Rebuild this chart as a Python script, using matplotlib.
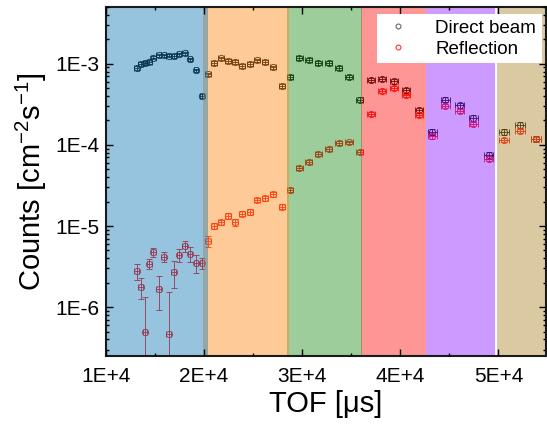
"""TOF spectrum of direct beam vs reflection, with coloured wavelength bands."""

import matplotlib
matplotlib.use("Agg")
import matplotlib.pyplot as plt
from matplotlib.lines import Line2D

plt.rcParams["font.family"] = ["Liberation Sans", "DejaVu Sans"]
plt.rcParams["mathtext.fontset"] = "custom"
plt.rcParams["mathtext.rm"] = "Liberation Sans"
plt.rcParams["mathtext.it"] = "Liberation Sans:italic"

# --- data ---
tof = [13130, 13540, 13980, 14410, 14820, 15370, 15880, 16390, 16900, 17440,
       18020, 18560, 19170, 19790,
       20430, 21040, 21750, 22410, 23120, 23890, 24650, 25390, 26210, 27020,
       27910, 28790,
       29700, 30660, 31660, 32690, 33710, 34770, 35860,
       36990, 38170, 39390, 40610, 41910,
       43260, 44590, 46060, 47440, 48990,
       50570, 52170, 53830]
tof_err = [250, 250, 250, 250, 250, 250, 250, 250, 250, 250, 250, 250, 250, 250,
           300, 300, 300, 300, 300, 300, 300, 300, 300, 300, 300, 300,
           360, 360, 360, 360, 360, 360, 360,
           420, 420, 420, 420, 420,
           480, 480, 480, 480, 480,
           520, 520, 520]

direct = [8.85e-4, 9.9e-4, 1.02e-3, 1.06e-3, 1.19e-3, 1.27e-3, 1.27e-3, 1.26e-3,
          1.24e-3, 1.30e-3, 1.34e-3, 1.13e-3, 8.27e-4, 3.99e-4,
          7.38e-4, 1.03e-3, 1.16e-3, 1.09e-3, 1.05e-3, 9.45e-4, 1.0e-3, 1.10e-3,
          1.06e-3, 9.0e-4, 5.35e-4, 6.91e-4,
          1.17e-3, 1.11e-3, 1.03e-3, 1.01e-3, 8.85e-4, 6.91e-4, 3.62e-4,
          6.29e-4, 6.47e-4, 6.04e-4, 4.68e-4, 2.68e-4,
          1.46e-4, 3.60e-4, 3.06e-4, 2.15e-4, 7.42e-5,
          1.43e-4, 1.77e-4, 1.19e-4]
direct_err = [5e-5, 5.5e-5, 5.5e-5, 5.5e-5, 6e-5, 6.5e-5, 6.5e-5, 6.5e-5, 6.5e-5,
              6.5e-5, 7e-5, 6e-5, 4.5e-5, 2.5e-5,
              4e-5, 5.5e-5, 6e-5, 5.5e-5, 5.5e-5, 5e-5, 5.5e-5, 5.5e-5, 5.5e-5,
              5e-5, 3e-5, 3.8e-5,
              6e-5, 6e-5, 5.5e-5, 5.5e-5, 5e-5, 4e-5, 2.2e-5,
              4e-5, 4e-5, 4e-5, 3.2e-5, 2e-5,
              1.2e-5, 2.6e-5, 2.3e-5, 1.7e-5, 0.7e-5,
              1.2e-5, 1.4e-5, 1.0e-5]

reflection = [2.76e-6, 1.78e-6, 4.88e-7, 3.42e-6, 4.73e-6, 1.67e-6, 4.18e-6,
              4.68e-7, 2.73e-6, 4.39e-6, 5.71e-6, 4.55e-6, 3.52e-6, 3.52e-6,
              6.53e-6, 1.0e-5, 1.11e-5, 1.34e-5, 1.11e-5, 1.42e-5, 1.49e-5,
              2.10e-5, 2.20e-5, 2.46e-5, 1.73e-5, 2.78e-5,
              5.25e-5, 6.17e-5, 7.74e-5, 8.93e-5, 1.05e-4, 1.07e-4, 8.26e-5,
              2.39e-4, 4.60e-4, 5.01e-4, 4.06e-4, 2.35e-4,
              1.27e-4, 3.03e-4, 2.63e-4, 1.82e-4, 6.78e-5,
              1.16e-4, 1.50e-4, 1.19e-4]
reflection_err = [0.6e-6, 0.53e-6, 0.85e-6, 0.46e-6, 0.58e-6, 0.75e-6, 0.6e-6,
                  1.05e-6, 1.0e-6, 0.76e-6, 0.88e-6, 0.9e-6, 0.87e-6, 0.54e-6,
                  1.0e-6, 0.8e-6, 0.9e-6, 1.1e-6, 1.0e-6, 1.1e-6, 1.1e-6,
                  1.4e-6, 1.4e-6, 1.6e-6, 1.3e-6, 1.8e-6,
                  3.0e-6, 3.5e-6, 4.2e-6, 4.8e-6, 5.5e-6, 5.6e-6, 4.6e-6,
                  1.3e-5, 2.4e-5, 2.6e-5, 2.1e-5, 1.3e-5,
                  0.8e-5, 1.6e-5, 1.4e-5, 1.0e-5, 0.45e-5,
                  0.7e-5, 0.85e-5, 0.7e-5]

# shaded bands (start, end) in TOF, drawn last-to-first so earlier ones sit on top
band_edges = [(9000, 20400), (19900, 28700), (28400, 36050),
              (36000, 42600), (42600, 49700), (49850, 56000)]
band_colors = ["#167cb6", "#fb8b1c", "#279021", "#ff1616", "#9021ff", "#b18930"]

xticks = [10000, 20000, 30000, 40000, 50000]
xtick_labels = ["1E+4", "2E+4", "3E+4", "4E+4", "5E+4"]
yticks = [1e-6, 1e-5, 1e-4, 1e-3]
ytick_labels = ["1E-6", "1E-5", "1E-4", "1E-3"]

fig = plt.figure(figsize=(5.47, 4.32), dpi=100)
ax = fig.add_axes([106 / 547, 1 - 356 / 432, 440 / 547, 349 / 432])

ax.errorbar(tof, direct, yerr=direct_err, xerr=tof_err, fmt="o", ms=4.5,
            mfc="none", mec="black", mew=0.6, ecolor="black", elinewidth=0.6,
            capsize=2.2, capthick=0.6, zorder=2)
ax.errorbar(tof, reflection, yerr=reflection_err, xerr=tof_err, fmt="o", ms=4.5,
            mfc="none", mec="red", mew=0.6, ecolor="red", elinewidth=0.6,
            capsize=2.2, capthick=0.6, zorder=2)

for (x0, x1), c in reversed(list(zip(band_edges, band_colors))):
    ax.axvspan(x0, x1, color=c, alpha=0.45, lw=0, zorder=3)

ax.set_yscale("log")
ax.set_xlim(10000, 54850)
ax.set_ylim(2.5e-7, 5e-3)

ax.set_xticks(xticks)
ax.set_xticklabels(xtick_labels)
ax.set_xticks([15000, 25000, 35000, 45000], minor=True)
ax.set_yticks(yticks)
ax.set_yticklabels(ytick_labels)
ax.tick_params(which="both", direction="in", top=True, right=True,
               labelsize=15, width=1.0)
ax.tick_params(which="major", length=5)
ax.tick_params(which="minor", length=2.5)
ax.tick_params(axis="x", pad=8)
ax.tick_params(axis="y", pad=5)
ax.xaxis.set_zorder(4)
ax.yaxis.set_zorder(4)
for sp in ax.spines.values():
    sp.set_linewidth(1.5)
    sp.set_color("#1a1a1a")
    sp.set_zorder(4)

ax.set_xlabel("TOF [μs]", fontsize=21, labelpad=3)
ax.set_ylabel(r"Counts [cm$^{\mathrm{-2}}$s$^{\mathrm{-1}}$]", fontsize=21, labelpad=4)

handles = [Line2D([], [], ls="none", marker="o", ms=3.5, mfc="none", mec="#666666", mew=0.8),
           Line2D([], [], ls="none", marker="o", ms=3.5, mfc="none", mec="#ff3333", mew=0.8)]
leg = ax.legend(handles, ["Direct beam", "Reflection"], loc="upper right",
                bbox_to_anchor=(0.99, 0.98), borderaxespad=0, fontsize=13.5,
                frameon=True, fancybox=False, framealpha=1, edgecolor="none",
                handletextpad=1.2, handlelength=1.6, borderpad=0.3, labelspacing=0.2)
leg.set_zorder(5)

fig.savefig("out.png", dpi=100)
